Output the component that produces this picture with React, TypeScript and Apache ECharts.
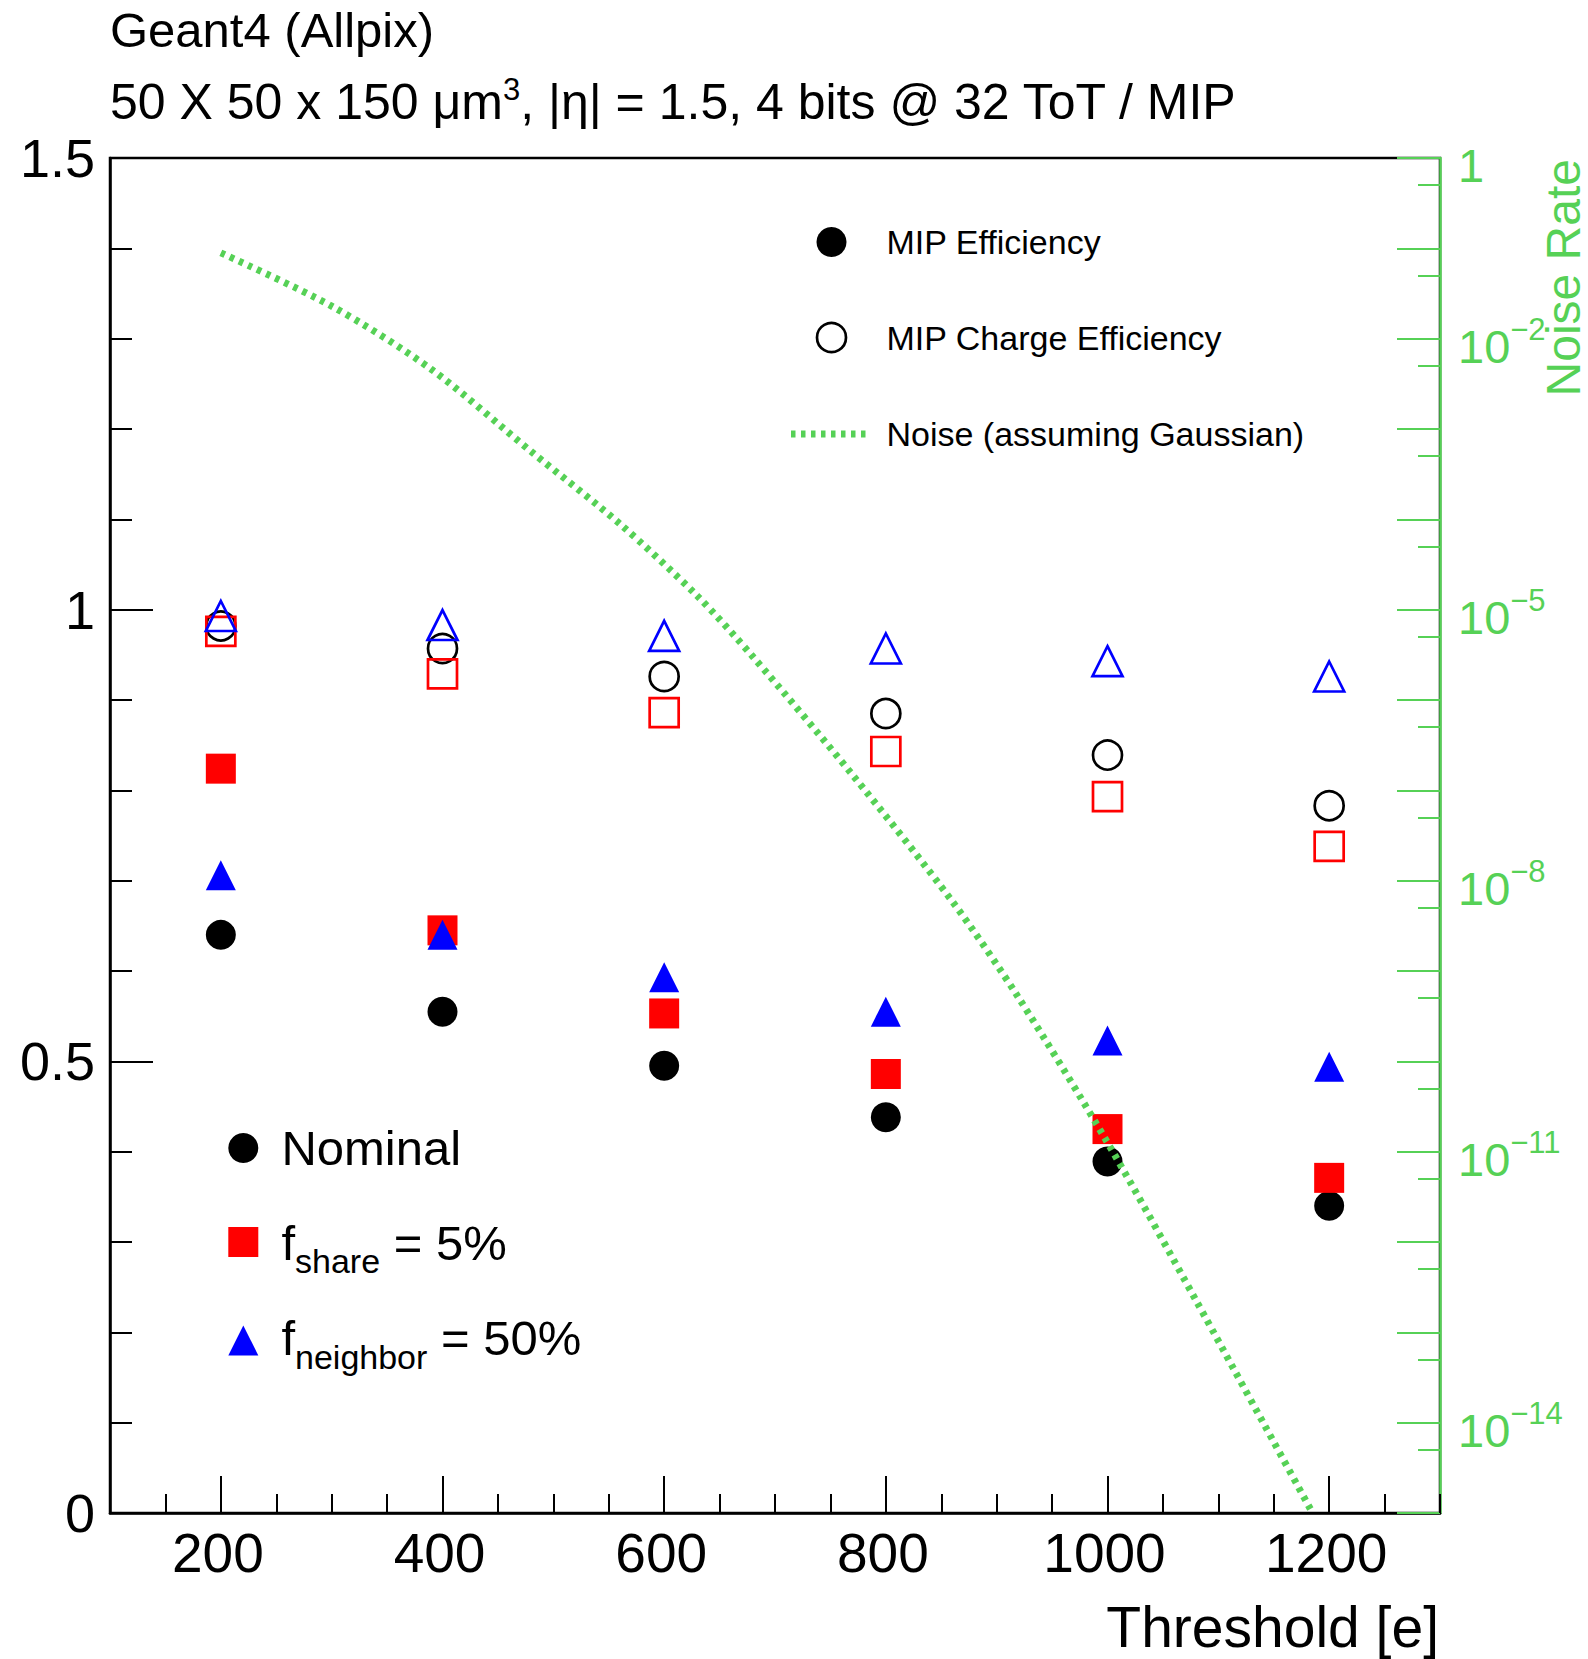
import React, { useEffect, useRef } from 'react';
import * as echarts from 'echarts';

// ---------------- data ----------------
const thresholds = [200, 400, 600, 800, 1000, 1200];

// Nominal (black)
const nominalEff = [0.64, 0.555, 0.495, 0.438, 0.389, 0.34];
const nominalChargeEff = [0.982, 0.957, 0.926, 0.885, 0.839, 0.783];
// f_share = 5% (red)
const shareEff = [0.824, 0.645, 0.553, 0.486, 0.425, 0.371];
const shareChargeEff = [0.976, 0.929, 0.886, 0.843, 0.793, 0.738];
// f_neighbor = 50% (blue)
const neighborEff = [0.706, 0.64, 0.593, 0.555, 0.523, 0.494];
const neighborChargeEff = [0.993, 0.983, 0.971, 0.957, 0.943, 0.926];

// Noise rate (assuming Gaussian), log10 of rate
const noiseThreshold = [200, 300, 390, 480, 560, 630, 680, 770, 860, 920, 1000, 1080, 1185];
const noiseLog10 = [-1.05, -1.64, -2.34, -3.25, -4.05, -4.85, -5.52, -6.83, -8.23, -9.3, -10.9, -12.65, -15.0];

// tick labels
const xLabelValues = [200, 400, 600, 800, 1000, 1200];
const rightLabelExponents = [0, -2, -5, -8, -11, -14];
const rightMinorDecades = [-1, -2, -3, -4, -5, -6, -7, -8, -9, -10, -11, -12, -13, -14, -15]; // ticks at 5 x 10^n

const GREEN = '#56d156';
const FONT = 'Liberation Sans';

const pairs = (ys: number[]) => thresholds.map((t, i) => [t, ys[i]]);

function scatter(name: string, ys: number[], symbol: string, size: number, color: string, open: boolean) {
  return {
    name,
    type: 'scatter',
    xAxisIndex: 0,
    yAxisIndex: 0,
    data: pairs(ys),
    symbol,
    symbolSize: size,
    silent: true,
    z: 2,
    itemStyle: open
      ? { color: 'rgba(0,0,0,0)', borderColor: color, borderWidth: 2.7, opacity: 1 }
      : { color, borderWidth: 0, opacity: 1 },
    emphasis: { disabled: true },
  };
}

const option: any = {
  animation: false,
  backgroundColor: '#ffffff',
  textStyle: { fontFamily: FONT },
  grid: {
    left: 110,
    top: 158,
    right: 148,
    bottom: 146,
    show: true,
    borderColor: '#000',
    borderWidth: 2.5,
    backgroundColor: 'rgba(0,0,0,0)',
  },
  xAxis: [
    {
      type: 'value',
      min: 100,
      max: 1300,
      interval: 50,
      position: 'bottom',
      axisLine: { show: true, onZero: false, lineStyle: { color: '#000', width: 2.5 } },
      axisTick: { show: true, inside: true, length: 19, lineStyle: { color: '#000', width: 2 } },
      axisLabel: {
        show: true,
        margin: 12,
        color: '#000',
        fontSize: 55,
        fontFamily: FONT,
        padding: [0, 6, 0, 0],
        formatter: (v: number) => (xLabelValues.includes(v) ? String(v) : ''),
      },
      splitLine: { show: false },
    },
    {
      type: 'value',
      min: 100,
      max: 1300,
      position: 'bottom',
      axisLine: { show: false },
      axisTick: {
        show: true,
        inside: true,
        length: 37,
        customValues: xLabelValues,
        lineStyle: { color: '#000', width: 2 },
      },
      axisLabel: { show: false },
      splitLine: { show: false },
    },
  ],
  yAxis: [
    {
      type: 'value',
      position: 'left',
      min: 0,
      max: 1.5,
      interval: 0.5,
      axisLine: { show: true, onZero: false, lineStyle: { color: '#000', width: 2.5 } },
      axisTick: { show: true, inside: true, length: 43, lineStyle: { color: '#000', width: 2 } },
      minorTick: { show: true, splitNumber: 5, length: 22, lineStyle: { color: '#000', width: 2 } },
      axisLabel: { show: true, margin: 15, color: '#000', fontSize: 54, fontFamily: FONT, padding: [8, 0, 0, 0] },
      splitLine: { show: false },
      minorSplitLine: { show: false },
    },
    {
      type: 'value',
      position: 'right',
      min: -15,
      max: 0,
      interval: 1,
      axisLine: { show: true, onZero: false, lineStyle: { color: GREEN, width: 2.5 } },
      axisTick: { show: true, inside: true, length: 43, lineStyle: { color: GREEN, width: 2 } },
      axisLabel: {
        show: true,
        margin: 18,
        padding: [6, 0, 0, 0],
        color: GREEN,
        formatter: (v: number) => {
          if (v === 0) return '{m|1}';
          if (rightLabelExponents.includes(v)) return '{m|10}{s|\u2212' + -v + '}';
          return '';
        },
        rich: {
          m: { fontSize: 47, lineHeight: 56, color: GREEN, fontFamily: FONT, verticalAlign: 'bottom' },
          s: { fontSize: 31, lineHeight: 24, color: GREEN, fontFamily: FONT, verticalAlign: 'top' },
        },
      },
      splitLine: { show: false },
    },
    {
      type: 'value',
      position: 'right',
      min: -15,
      max: 0,
      axisLine: { show: false },
      axisTick: {
        show: true,
        inside: true,
        length: 22,
        customValues: rightMinorDecades.map((n) => n + Math.log10(5)),
        lineStyle: { color: GREEN, width: 2 },
      },
      axisLabel: { show: false },
      splitLine: { show: false },
    },
  ],
  series: [
    scatter('MIP Charge Efficiency (nominal)', nominalChargeEff, 'circle', 29, '#000', true),
    scatter('MIP Efficiency (nominal)', nominalEff, 'circle', 30, '#000', false),
    scatter('MIP Charge Efficiency (f_share)', shareChargeEff, 'rect', 29, '#ff0000', true),
    scatter('MIP Efficiency (f_share)', shareEff, 'rect', 30, '#ff0000', false),
    scatter('MIP Charge Efficiency (f_neighbor)', neighborChargeEff, 'triangle', 30, '#0000ff', true),
    scatter('MIP Efficiency (f_neighbor)', neighborEff, 'triangle', 30, '#0000ff', false),
    {
      name: 'Noise (assuming Gaussian)',
      type: 'line',
      xAxisIndex: 0,
      yAxisIndex: 1,
      data: noiseThreshold.map((t, i) => [t, noiseLog10[i]]),
      showSymbol: false,
      symbol: 'none',
      smooth: 0.3,
      silent: true,
      z: 3,
      lineStyle: { color: GREEN, width: 7, type: [4.5, 5.5], cap: 'butt' },
      emphasis: { disabled: true },
    },
  ],
  graphic: [
    // titles
    {
      type: 'text',
      x: 110,
      y: 30,
      silent: true,
      style: {
        text: 'Geant4 (Allpix)',
        font: '49px "Liberation Sans"',
        fill: '#000',
        align: 'left',
        verticalAlign: 'middle',
        textAlign: 'left',
        textVerticalAlign: 'middle',
      },
    },
    {
      type: 'text',
      x: 110,
      y: 102,
      silent: true,
      style: {
        text: '{m|50 X 50 x 150 \u03bcm}{s|3}{m|, |\u03b7| = 1.5, 4 bits @ 32 ToT / MIP}',
        fill: '#000',
        align: 'left',
        verticalAlign: 'middle',
        textAlign: 'left',
        textVerticalAlign: 'middle',
        rich: {
          m: { fontSize: 50, fontFamily: FONT, lineHeight: 56, fill: '#000', color: '#000' },
          s: { fontSize: 31, fontFamily: FONT, lineHeight: 30, verticalAlign: 'top', fill: '#000', color: '#000' },
        },
      },
    },
    // axis titles
    {
      type: 'text',
      x: 1439,
      y: 1627,
      silent: true,
      style: {
        text: 'Threshold [e]',
        font: '57px "Liberation Sans"',
        lineHeight: 56,
        fill: '#000',
        align: 'right',
        verticalAlign: 'middle',
        textAlign: 'right',
        textVerticalAlign: 'middle',
      },
    },
    {
      type: 'text',
      x: 1563,
      y: 159,
      rotation: Math.PI / 2,
      silent: true,
      style: {
        text: 'Noise Rate',
        font: '48px "Liberation Sans"',
        lineHeight: 44,
        fill: GREEN,
        align: 'right',
        verticalAlign: 'middle',
        textAlign: 'right',
        textVerticalAlign: 'middle',
      },
    },
    // upper legend
    { type: 'circle', silent: true, shape: { cx: 831.5, cy: 242, r: 15 }, style: { fill: '#000' } },
    {
      type: 'circle',
      silent: true,
      shape: { cx: 831.5, cy: 337.5, r: 14.5 },
      style: { fill: 'none', stroke: '#000', lineWidth: 2.7 },
    },
    {
      type: 'line',
      silent: true,
      shape: { x1: 791, y1: 434, x2: 868, y2: 434 },
      style: { stroke: GREEN, lineWidth: 7, lineDash: [4.5, 5.5], lineCap: 'butt' },
    },
    ...[
      ['MIP Efficiency', 242],
      ['MIP Charge Efficiency', 337.5],
      ['Noise (assuming Gaussian)', 434],
    ].map(([t, y]) => ({
      type: 'text',
      x: 886.5,
      y: y as number,
      silent: true,
      style: {
        text: t as string,
        font: '34px "Liberation Sans"',
        fill: '#000',
        align: 'left',
        verticalAlign: 'middle',
        textAlign: 'left',
        textVerticalAlign: 'middle',
      },
    })),
    // lower legend
    { type: 'circle', silent: true, shape: { cx: 243.3, cy: 1148, r: 15 }, style: { fill: '#000' } },
    { type: 'rect', silent: true, shape: { x: 228.3, y: 1227, width: 30, height: 30 }, style: { fill: '#ff0000' } },
    {
      type: 'polygon',
      silent: true,
      shape: { points: [[243.3, 1325.4], [258.3, 1355.4], [228.3, 1355.4]] },
      style: { fill: '#0000ff' },
    },
    {
      type: 'text',
      x: 281.4,
      y: 1148,
      silent: true,
      style: {
        text: 'Nominal',
        font: '49px "Liberation Sans"',
        fill: '#000',
        align: 'left',
        verticalAlign: 'middle',
        textAlign: 'left',
        textVerticalAlign: 'middle',
      },
    },
    ...[
      ['{m|f}{s|share}{m| = 5%}', 1248],
      ['{m|f}{s|neighbor}{m| = 50%}', 1343.5],
    ].map(([t, y]) => ({
      type: 'text',
      x: 281.4,
      y: y as number,
      silent: true,
      style: {
        text: t as string,
        fill: '#000',
        align: 'left',
        verticalAlign: 'middle',
        textAlign: 'left',
        textVerticalAlign: 'middle',
        rich: {
          m: { fontSize: 49, fontFamily: FONT, lineHeight: 60, verticalAlign: 'top', fill: '#000', color: '#000' },
          s: { fontSize: 34, fontFamily: FONT, lineHeight: 20, verticalAlign: 'bottom', fill: '#000', color: '#000' },
        },
      },
    })),
  ],
};

export default function App() {
  const ref = useRef<HTMLDivElement>(null);
  useEffect(() => {
    if (!ref.current) return;
    const chart = echarts.init(ref.current, null, { renderer: 'svg' });
    chart.setOption(option);
    return () => chart.dispose();
  }, []);
  return (
    <div
      ref={ref}
      style={{ position: 'absolute', left: 0, top: 0, width: 1588, height: 1659, background: '#fff' }}
    />
  );
}
